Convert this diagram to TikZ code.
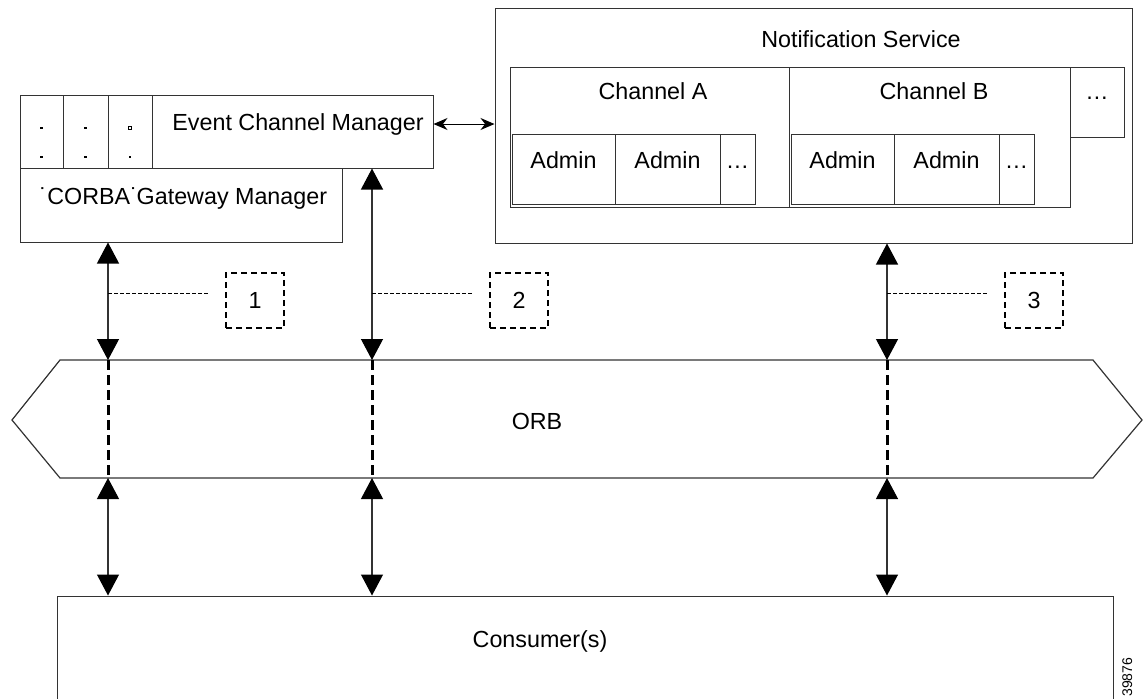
\documentclass[tikz,border=0pt]{standalone}
\usepackage{fontspec}
\setmainfont{Liberation Sans}
\usetikzlibrary{arrows.meta,fit}

\begin{document}
\begin{tikzpicture}[x=.5pt,y=-.5pt,
  box/.style={draw=black!80,line width=.5pt,inner sep=0pt},
  lbl/.style={font=\fontsize{11.65}{14}\selectfont,inner sep=0pt},
  link/.style={{Triangle[length=10.5pt,width=11pt,color=black]}-{Triangle[length=10.5pt,width=11pt,color=black]},draw=black!80,line width=.6pt},
  sig/.style={{Stealth[length=7pt,width=6pt]}-{Stealth[length=7pt,width=6pt]},line width=.5pt},
  bus/.style={line width=1.5pt,dash pattern=on 5pt off 2.5pt},
  leader/.style={line width=.4pt,dash pattern=on 2pt off 1pt},
  numbox/.style={draw,line width=.75pt,dash pattern=on 3pt off 2pt,minimum width=29pt,minimum height=27.5pt,inner sep=0pt,font=\fontsize{11.65}{14}\selectfont}]
\useasboundingbox (0,0) rectangle (1146,698);
\clip (0,0) rectangle (1146,698);

% managers
\node[box,fit={(20,95) (433,168)}] (ecm) {};
\node[box,fit={(20,168) (342,242)}] (gw) {};
\foreach \x in {63,108,152} \draw[black!80,line width=.5pt] (\x,95) -- (\x,168);
\foreach \x in {41.5,85.5} \foreach \y in {128,157} \fill (\x-1.4,\y-1.4) rectangle +(2.8,2.8);
\fill (128.6,155.6) rectangle +(2.8,2.8);
\draw[line width=.3pt] (128.5,126.5) rectangle +(3,3);
\node[lbl,anchor=base west] (ecml) at (172,130) {Event Channel Manager};
\node[lbl,anchor=base west] (gwl) at (47,204) {\llap{˙}CORBA\rlap{˙} Gateway Manager};

% notification service
\node[box,fit={(495,8) (1132,243)}] (ns) {};
\node[lbl,anchor=base] (nsl) at (861,47) {Notification Service};
\node[box,fit={(510,67) (789,207)}] (cha) {};
\node[box,fit={(789,67) (1070,207)}] (chb) {};
\node[box,fit={(1070,67) (1124,137)}] (chm) {};
\node[lbl,anchor=base] (chal) at (653,99) {Channel A};
\node[lbl,anchor=base] (chbl) at (934,99) {Channel B};
\node[lbl] (chml) at (1097,98) {…};
\foreach \o/\c in {0/a,279/b}{
  \node[box,fit={(512+\o,134) (615+\o,204)}] (\c1) {};
  \node[box,fit={(615+\o,134) (720+\o,204)}] (\c2) {};
  \node[box,fit={(720+\o,134) (755+\o,204)}] (\c3) {};
  \node[lbl,anchor=base] at ([yshift=.5pt]\c1.center) {Admin};
  \node[lbl,anchor=base] at ([yshift=.5pt]\c2.center) {Admin};
  \node[lbl,anchor=base] at ([yshift=.5pt]\c3.center) {…};
}
\coordinate (e1) at ([yshift=3.75pt]ecm.east);
\draw[sig] (e1) -- (e1 -| ns.west);

% orb
\draw[line width=.6pt,draw=black!80] (60,360) -- (1093,360) -- (1142,420) -- (1093,478) -- (60,478) -- (12,420) -- cycle;
\node[lbl,anchor=base] (orb) at (537,429) {ORB};
\coordinate (ot) at (0,360);
\coordinate (ob) at (0,478);

% consumers
\node[box,fit={(57,596) (1113,760)}] (con) {};
\node[lbl,anchor=base] (conl) at (540,647) {Consumer(s)};
\node[font=\fontsize{7}{8}\selectfont,rotate=90,anchor=base west,inner sep=0pt] (fig) at (1132,697) {39876};

% interfaces
\coordinate (c1) at (108,0);
\coordinate (c2) at (372,0);
\coordinate (c3) at (887,0);
\draw[link] (c1 |- gw.south) -- (c1 |- ot);
\draw[link] (c2 |- ecm.south) -- (c2 |- ot);
\draw[link] (c3 |- ns.south) -- (c3 |- ot);
\foreach \c in {c1,c2,c3}{
  \draw[bus] (\c |- ot) -- (\c |- ob);
  \draw[link] (\c |- ob) -- (\c |- con.north);
}
\node[numbox] (n1) at (255,300.5) {1};
\node[numbox] (n2) at (519,300.5) {2};
\node[numbox] (n3) at (1034,300.5) {3};
\coordinate (ly) at (0,293);
\foreach \c in {c1,c2,c3} \draw[leader] (\c |- ly) -- ++(101,0);
\end{tikzpicture}
\end{document}
